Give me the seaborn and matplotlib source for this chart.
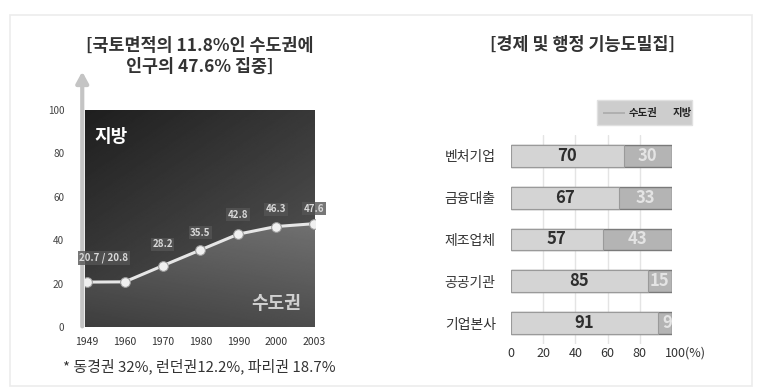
import numpy as np
import pandas as pd
import matplotlib
matplotlib.use("Agg")
import matplotlib.pyplot as plt
import seaborn as sns
from matplotlib.patches import Rectangle

# ---------------- data ----------------
years = ["1949", "1960", "1970", "1980", "1990", "2000", "2003"]
capital_share = [20.7, 20.8, 28.2, 35.5, 42.8, 46.3, 47.6]
y_ticks = [0, 20, 40, 60, 80, 100]

categories = ["벤처기업", "금융대출", "제조업체", "공공기관", "기업본사"]
capital_vals = [70, 67, 57, 85, 91]
local_vals = [30, 33, 43, 15, 9]
x_ticks = [0, 20, 40, 60, 80, 100]
x_tick_labels = ["0", "20", "40", "60", "80", ""]

left_title = "[국토면적의 11.8%인 수도권에\n인구의 47.6% 집중]"
right_title = "[경제 및 행정 기능도밀집]"
note = "* 동경권 32%, 런던권12.2%, 파리권 18.7%"

sns.set_theme(style="white")
plt.rcParams["font.family"] = ["Noto Sans CJK KR", "DejaVu Sans"]

W, H = 761, 392
fig = plt.figure(figsize=(W / 100, H / 100), dpi=100)
fig.patch.set_facecolor("white")

def fx(px):
    return px / W

def fy(py):
    return 1 - py / H

# faint frame
fig.add_artist(Rectangle((fx(10), fy(386)), fx(742), fy(15) - fy(386),
                         transform=fig.transFigure, fill=False,
                         edgecolor="#ececec", lw=1.2))

# ---------------- left: line chart ----------------
L0, L1, T0, T1 = 85, 315, 110, 327
axl = fig.add_axes([fx(L0), fy(T1), fx(L1 - L0), fy(T0) - fy(T1)])
df_line = pd.DataFrame({"pos": np.arange(len(years)), "share": capital_share})
xmin, xmax = -0.05, len(years) - 1 + 0.03
axl.set_xlim(xmin, xmax)
axl.set_ylim(0, 100)

# dark gradient background (지방)
gy, gx = np.mgrid[0:1:200j, 0:1:200j]
grad_top = 0.12 + 0.10 * gx + 0.14 * gy
axl.imshow(grad_top, extent=[xmin, xmax, 0, 100], origin="upper", aspect="auto",
           cmap="gray", vmin=0, vmax=1, zorder=0)
# lower gradient (수도권)
px_ext = np.concatenate([[xmin], df_line["pos"].values, [xmax]])
py_ext = np.concatenate([[capital_share[0]], capital_share, [capital_share[-1] + 0.5]])
poly = axl.fill_between(px_ext, 0, py_ext, color="none", zorder=1)
grad_low = 0.24 + 0.30 * gy + 0.06 * gx
im = axl.imshow(grad_low, extent=[xmin, xmax, 0, 100], origin="lower", aspect="auto",
                cmap="gray", vmin=0, vmax=1, zorder=1)
im.set_clip_path(poly.get_paths()[0], transform=axl.transData)

sns.lineplot(data=df_line, x="pos", y="share", ax=axl, color="#e6e6e6", lw=2.2,
             marker="o", markersize=7, markerfacecolor="#f0f0f0",
             markeredgecolor="#9a9a9a", zorder=3)

# value labels
lab_off = [11, 11, 10, 8, 9, 8, 7]
for i, v in enumerate(capital_share):
    if i == 0:
        continue
    if i == 1:
        txt = f"{capital_share[0]} / {v}"
        xpos = 0.45
    else:
        txt = f"{v}"
        xpos = i
    axl.text(xpos, v + lab_off[i], txt, ha="center", va="center", fontsize=7,
             color="#d8d8d8", fontweight="bold", zorder=4,
             bbox=dict(boxstyle="square,pad=0.15", fc="#555555", ec="none", alpha=0.8))

axl.text(0.2, 88, "지방", color="white", fontsize=13, fontweight="bold",
         ha="left", va="center", zorder=4)
axl.text(5.0, 11, "수도권", color="#d0d0d0", fontsize=13, fontweight="bold",
         ha="center", va="center", zorder=4)

for s in axl.spines.values():
    s.set_visible(False)
axl.set_xticks(df_line["pos"])
axl.set_xticklabels(years, fontsize=7.5, color="#333333")
axl.set_yticks(y_ticks)
axl.set_yticklabels([str(t) for t in y_ticks], fontsize=7.2, color="#444444")
axl.tick_params(axis="x", length=0, pad=7)
axl.tick_params(axis="y", length=0, pad=15)
axl.set_xlabel("")
axl.set_ylabel("")
axl.grid(False)

# vertical axis arrow
axl.annotate("", xy=(-0.012, 1.19), xytext=(-0.012, -0.01), xycoords="axes fraction",
             textcoords="axes fraction",
             arrowprops=dict(arrowstyle="-|>,head_width=0.3,head_length=0.55",
                             color="#c4c4c4", lw=3.0), annotation_clip=False)

fig.text(fx(200), fy(56), left_title, ha="center", va="center", fontsize=12.5,
         color="#333333", fontweight="bold", linespacing=1.2)
fig.text(fx(63), fy(366), note, ha="left", va="center", fontsize=10.8, color="#333333")

# ---------------- right: stacked bar chart ----------------
R0, R1, B0, B1 = 511, 672, 135, 344
axr = fig.add_axes([fx(R0), fy(B1), fx(R1 - R0), fy(B0) - fy(B1)])
df_bar = pd.DataFrame({"cat": categories, "capital": capital_vals, "local": local_vals})
df_bar["total"] = df_bar["capital"] + df_bar["local"]

for xv in x_ticks[1:-1]:
    axr.axvline(xv, color="#e4e4e4", lw=1.0, zorder=0)

sns.barplot(data=df_bar, x="total", y="cat", orient="h", color="#b4b4b4",
            width=0.52, ax=axr, edgecolor="#7a7a7a", linewidth=1.0, saturation=1, zorder=2)
sns.barplot(data=df_bar, x="capital", y="cat", orient="h", color="#d4d4d4",
            width=0.52, ax=axr, edgecolor="#9a9a9a", linewidth=0.8, saturation=1, zorder=3)

for i, (c, l) in enumerate(zip(capital_vals, local_vals)):
    axr.text(c / 2, i, str(c), ha="center", va="center", fontsize=12,
             fontweight="bold", color="#2e2e2e", zorder=5)
    axr.text(c + l / 2 if l > 12 else c + l - 3, i, str(l), ha="center", va="center",
             fontsize=12, fontweight="bold", color="#e4e4e4", zorder=5)

axr.set_xlim(0, 100)
axr.set_ylim(4.5, -0.5)
for s in axr.spines.values():
    s.set_visible(False)
axr.set_xticks(x_ticks)
axr.set_xticklabels(x_tick_labels, fontsize=9, color="#333333")
axr.text(95.5, -0.012, "100(%)", transform=axr.get_xaxis_transform(), ha="left",
         va="top", fontsize=9, color="#333333")
axr.tick_params(axis="x", length=0, pad=2)
axr.tick_params(axis="y", length=0, pad=11)
axr.set_yticks(range(len(categories)))
axr.set_yticklabels(categories, fontsize=10, color="#333333")
axr.set_xlabel("")
axr.set_ylabel("")
axr.grid(False)

# legend box
fig.add_artist(Rectangle((fx(597), fy(125)), fx(95), fy(100) - fy(125),
                         transform=fig.transFigure, fc="#cdcdcd", ec="#e0e0e0", lw=1))
fig.add_artist(Rectangle((fx(603), fy(114)), fx(22), fy(112) - fy(114),
                         transform=fig.transFigure, fc="#b0b0b0", ec="none"))
fig.text(fx(643), fy(113), "수도권", ha="center", va="center", fontsize=7.5,
         fontweight="bold", color="#222222")
fig.text(fx(682), fy(113), "지방", ha="center", va="center", fontsize=7.5,
         fontweight="bold", color="#222222")

fig.text(fx(582), fy(45), right_title, ha="center", va="center", fontsize=12.5,
         color="#333333", fontweight="bold")

fig.savefig("out.png", dpi=100)
